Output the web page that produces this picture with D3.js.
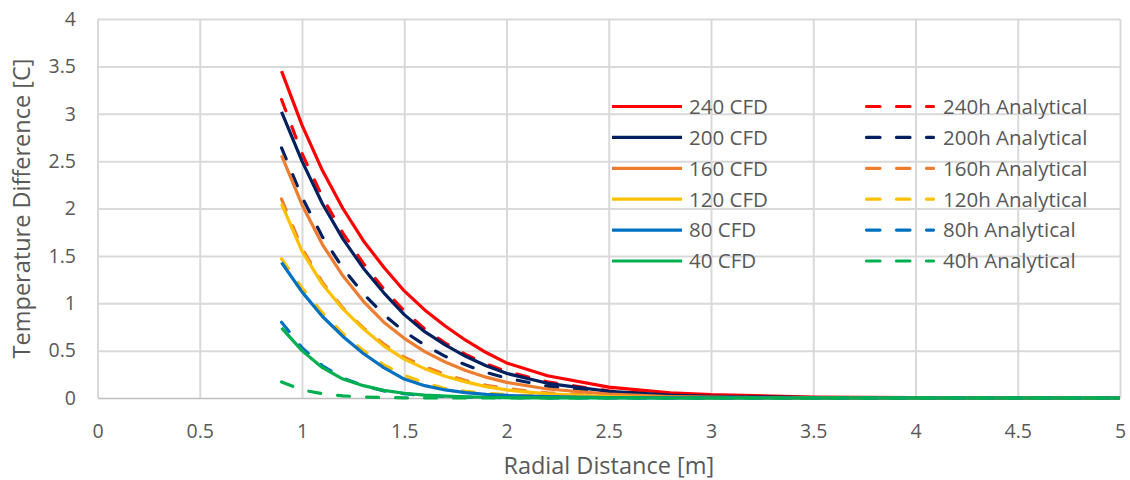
<!DOCTYPE html>
<html>
<head>
<meta charset="utf-8">
<script src="https://cdn.jsdelivr.net/npm/d3@7"></script>
<style>
    body { margin: 0; background: #fff; }
    text { font-family: "Open Sans", sans-serif; fill: #595959; }
</style>
</head>
<body>
<div id="chart"></div>
<script>
// radial positions [m]
var radial = [0.9, 1.0, 1.1, 1.2, 1.3, 1.4, 1.5, 1.6, 1.7, 1.8, 1.9, 2.0, 2.2, 2.5, 2.8, 3.0, 3.5, 4.0, 4.5, 5.0];

// temperature difference [C], CFD runs
var cfd240 = [3.45, 2.88, 2.40, 2.00, 1.66, 1.38, 1.13, 0.93, 0.76, 0.61, 0.48, 0.37, 0.235, 0.115, 0.055, 0.035, 0.010, 0.004, 0.002, 0.001];
var cfd200 = [3.02, 2.50, 2.05, 1.68, 1.37, 1.11, 0.88, 0.70, 0.56, 0.44, 0.34, 0.26, 0.155, 0.070, 0.030, 0.018, 0.004, 0.001, 0, 0];
var cfd160 = [2.56, 2.04, 1.62, 1.29, 1.02, 0.80, 0.63, 0.49, 0.38, 0.29, 0.22, 0.165, 0.095, 0.040, 0.016, 0.009, 0.002, 0, 0, 0];
var cfd120 = [2.05, 1.55, 1.20, 0.94, 0.73, 0.55, 0.41, 0.31, 0.23, 0.17, 0.12, 0.085, 0.043, 0.015, 0.005, 0.002, 0, 0, 0, 0];
var cfd80  = [1.43, 1.12, 0.86, 0.65, 0.47, 0.32, 0.20, 0.13, 0.085, 0.057, 0.038, 0.027, 0.014, 0.005, 0.002, 0.001, 0, 0, 0, 0];
var cfd40  = [0.74, 0.50, 0.32, 0.20, 0.13, 0.08, 0.05, 0.03, 0.02, 0.012, 0.008, 0.005, 0.002, 0.001, 0, 0, 0, 0, 0, 0];

// temperature difference [C], analytical solution
var ana240 = [3.15, 2.58, 2.12, 1.74, 1.42, 1.15, 0.92, 0.73, 0.58, 0.46, 0.36, 0.28, 0.17, 0.075, 0.032, 0.018, 0.004, 0.001, 0, 0];
var ana200 = [2.64, 2.12, 1.70, 1.37, 1.10, 0.88, 0.70, 0.56, 0.44, 0.35, 0.27, 0.21, 0.125, 0.055, 0.022, 0.012, 0.002, 0, 0, 0];
var ana160 = [2.10, 1.58, 1.22, 0.95, 0.74, 0.57, 0.43, 0.33, 0.25, 0.185, 0.135, 0.10, 0.055, 0.022, 0.009, 0.004, 0.001, 0, 0, 0];
var ana120 = [1.47, 1.16, 0.90, 0.68, 0.50, 0.35, 0.24, 0.16, 0.10, 0.07, 0.05, 0.035, 0.018, 0.006, 0.002, 0.001, 0, 0, 0, 0];
var ana80  = [0.80, 0.53, 0.34, 0.21, 0.13, 0.075, 0.045, 0.027, 0.016, 0.010, 0.006, 0.004, 0.002, 0.001, 0, 0, 0, 0, 0, 0];
var ana40  = [0.17, 0.085, 0.045, 0.022, 0.011, 0.005, 0.002, 0.001, 0, 0, 0, 0, 0, 0, 0, 0, 0, 0, 0, 0];

var cfdNames = ["240 CFD", "200 CFD", "160 CFD", "120 CFD", "80 CFD", "40 CFD"];
var anaNames = ["240h Analytical", "200h Analytical", "160h Analytical", "120h Analytical", "80h Analytical", "40h Analytical"];
var colors = ["#ff0000", "#002060", "#ed7d31", "#ffc000", "#0070c0", "#00b050"];

var xTicks = [0, 0.5, 1, 1.5, 2, 2.5, 3, 3.5, 4, 4.5, 5];
var yTicks = [0, 0.5, 1, 1.5, 2, 2.5, 3, 3.5, 4];

function draw_chart() {
    var W = 1130, H = 480;
    var left = 97.5, right = 1120, top = 19, bottom = 398;

    var svg = d3.select("#chart")
        .append("svg")
        .attr("width", W)
        .attr("height", H);

    var x = d3.scaleLinear().domain([0, 5]).range([left, right]);
    var y = d3.scaleLinear().domain([0, 4]).range([bottom, top]);

    // gridlines
    svg.append("g")
        .attr("transform", "translate(0," + bottom + ")")
        .call(d3.axisBottom(x).tickValues(xTicks).tickSize(-(bottom - top)).tickFormat(""))
        .call(function(g) { g.select(".domain").remove(); })
        .selectAll("line").attr("stroke", "#d9d9d9").attr("stroke-width", 2);
    svg.append("g")
        .attr("transform", "translate(" + left + ",0)")
        .call(d3.axisLeft(y).tickValues(yTicks.slice(1)).tickSize(-(right - left)).tickFormat(""))
        .call(function(g) { g.select(".domain").remove(); })
        .selectAll("line").attr("stroke", "#d9d9d9").attr("stroke-width", 2);

    // axes
    var xAxis = svg.append("g")
        .attr("transform", "translate(0," + bottom + ")")
        .call(d3.axisBottom(x).tickValues(xTicks).tickSize(0).tickPadding(26.5).tickFormat(function(d) { return d; }));
    xAxis.select(".domain").attr("stroke", "#bfbfbf").attr("stroke-width", 1.5);
    xAxis.selectAll("text").attr("font-size", 19.5).attr("font-family", "Open Sans").attr("fill", "#595959");

    var yAxis = svg.append("g")
        .attr("transform", "translate(" + left + ",0)")
        .call(d3.axisLeft(y).tickValues(yTicks).tickSize(0).tickPadding(21.5).tickFormat(function(d) { return d; }));
    yAxis.select(".domain").remove();
    yAxis.selectAll("text").attr("font-size", 19.5).attr("font-family", "Open Sans").attr("fill", "#595959");

    svg.append("text")
        .attr("x", (left + right) / 2)
        .attr("y", 474)
        .attr("text-anchor", "middle")
        .attr("font-size", 23.5)
        .text("Radial Distance [m]");

    svg.append("text")
        .attr("transform", "translate(30," + ((top + bottom) / 2) + ") rotate(-90)")
        .attr("text-anchor", "middle")
        .attr("font-size", 23.5)
        .text("Temperature Difference [C]");

    var cfd = [cfd240, cfd200, cfd160, cfd120, cfd80, cfd40];
    var ana = [ana240, ana200, ana160, ana120, ana80, ana40];

    var line = d3.line()
        .x(function(d) { return x(d[0]); })
        .y(function(d) { return y(d[1]); });

    // series in Excel order: CFD then analytical, for each run
    for (var i = 0; i < cfd.length; i++) {
        svg.append("path")
            .datum(d3.zip(radial, cfd[i]))
            .attr("fill", "none")
            .attr("stroke", colors[i])
            .attr("stroke-width", 3.2)
            .attr("stroke-linejoin", "round")
            .attr("d", line);
        svg.append("path")
            .datum(d3.zip(radial, ana[i]))
            .attr("fill", "none")
            .attr("stroke", colors[i])
            .attr("stroke-width", 3.2)
            .attr("stroke-linecap", "round")
            .attr("stroke-dasharray", "12,17")
            .attr("d", line);
    }

    // legend
    var lg = svg.append("g");
    for (var j = 0; j < cfdNames.length; j++) {
        var ly = 106.5 + j * 30.9;
        lg.append("line")
            .attr("x1", 612).attr("x2", 682)
            .attr("y1", ly).attr("y2", ly)
            .attr("stroke", colors[j]).attr("stroke-width", 3.2);
        lg.append("text")
            .attr("x", 689).attr("y", ly).attr("dy", "0.36em")
            .attr("font-size", 20.5)
            .text(cfdNames[j]);
        lg.append("line")
            .attr("x1", 866.5).attr("x2", 933.5)
            .attr("y1", ly).attr("y2", ly)
            .attr("stroke", colors[j]).attr("stroke-width", 3.2)
            .attr("stroke-linecap", "round")
            .attr("stroke-dasharray", "13.5,16.5");
        lg.append("text")
            .attr("x", 943).attr("y", ly).attr("dy", "0.36em")
            .attr("font-size", 20.5)
            .text(anaNames[j]);
    }
}

draw_chart();
</script>
</body>
</html>
